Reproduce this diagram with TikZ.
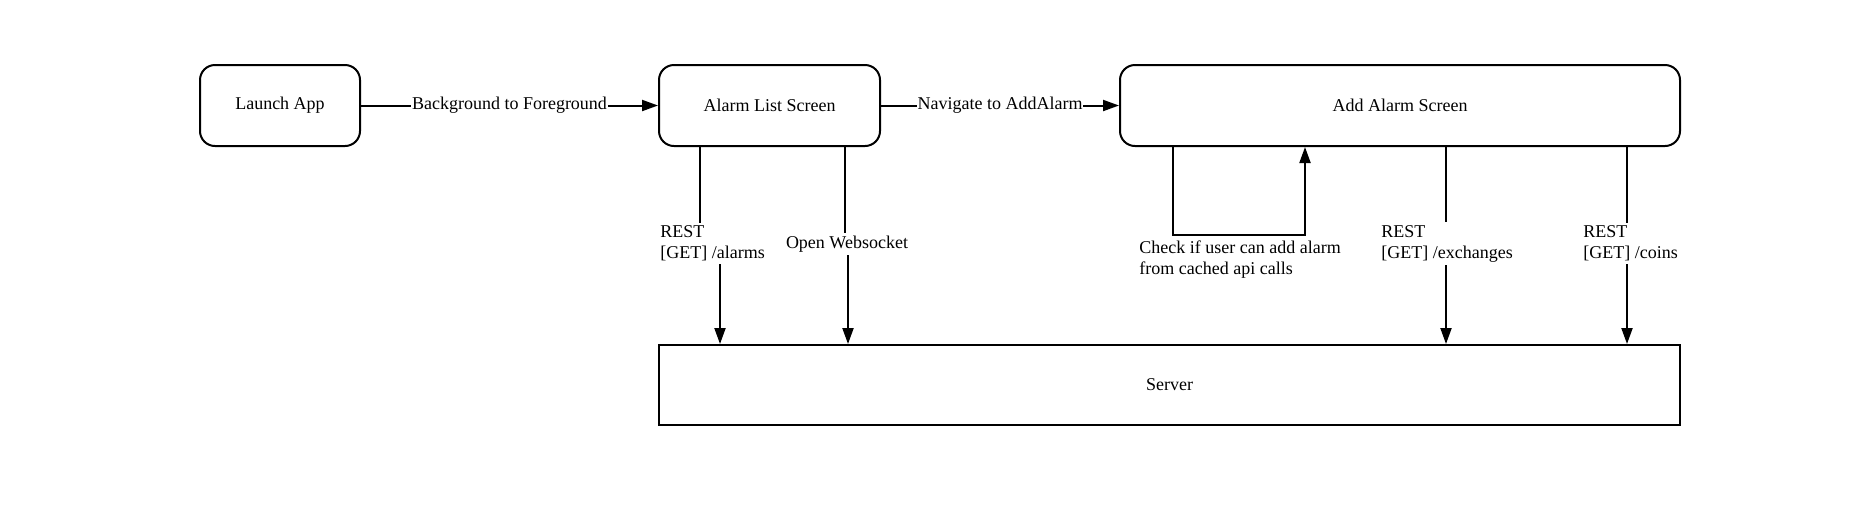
\documentclass[tikz,border=0pt]{standalone}
\usepackage{fontspec}
\setmainfont{Liberation Serif}
\usetikzlibrary{arrows.meta}
\begin{document}
\begin{tikzpicture}[x=0.5pt,y=-0.5pt,
  font=\fontsize{9}{10.5}\selectfont,
  box/.style={draw,line width=1pt,rounded corners=7.5pt,inner sep=0pt,minimum height=40.5pt},
  sbox/.style={draw,line width=1pt,inner sep=0pt},
  conn/.style={line width=1pt},
  arr/.style={line width=1pt,-{Triangle[length=8pt,width=5.5pt]}},
  lbl/.style={fill=white,inner sep=1.5pt,align=left}]
\useasboundingbox (0,0) rectangle (1869,511);
\node[box,minimum width=80pt] (la) at (280,105.5) {Launch App};
\node[box,minimum width=110.5pt] (al) at (769.5,105.5) {Alarm List Screen};
\node[box,minimum width=280pt] (as) at (1400,105.5) {Add Alarm Screen};
\node[sbox,minimum width=510.5pt,minimum height=40pt] (srv) at (1169.5,385) {Server};
% x and y helper coordinates
\coordinate (x700) at (700,0);
\coordinate (x720) at (720,0);
\coordinate (x845) at (845,0);
\coordinate (x848) at (848,0);
\coordinate (x1173) at (1173,0);
\coordinate (x1305) at (1305,0);
\coordinate (x1446) at (1446,0);
\coordinate (x1627) at (1627,0);
\coordinate (j1) at (0,243);
\coordinate (j2) at (0,235);
% horizontal edges
\draw[arr] (la.east) -- node[lbl,inner sep=0.5pt]{Background to Foreground} (al.west);
\draw[arr] (al.east) -- node[lbl,inner sep=0.5pt]{Navigate to AddAlarm} (as.west);
% vertical edges
\draw[arr] (al.south -| x700) -- (x700 |- j1) -- (x720 |- j1) -- (srv.north -| x720);
\node[lbl,anchor=west] (l1) at (657,243.5) {REST\\{}[GET] /alarms};
\draw[arr] (al.south -| x845) -- (x845 |- j1) -- (x848 |- j1) -- (srv.north -| x848);
\node[lbl] (l2) at (847,244) {Open Websocket};
\draw[arr] (as.south -| x1173) -- (x1173 |- j2) -- (x1305 |- j2) -- (as.south -| x1305);
\node[lbl,anchor=west] (l3) at (1136,259.5) {Check if user can add alarm\\from cached api calls};
\draw[arr] (as.south -| x1446) -- (srv.north -| x1446);
\node[lbl,anchor=west] (l4) at (1378,243.5) {REST\\{}[GET] /exchanges};
\draw[arr] (as.south -| x1627) -- (srv.north -| x1627);
\node[lbl,anchor=west] (l5) at (1580,243.5) {REST\\{}[GET] /coins};
\end{tikzpicture}
\end{document}
